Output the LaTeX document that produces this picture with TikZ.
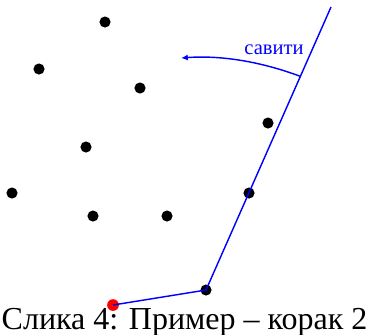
\documentclass[tikz,border=0pt]{standalone}
\usepackage{fontspec}
\setmainfont{Liberation Serif}
\usetikzlibrary{arrows.meta,calc}

\begin{document}
\begin{tikzpicture}[
  x=0.35pt,y=-0.35pt,
  point/.style={circle,fill=black,inner sep=0pt,minimum size=3.9pt},
  start/.style={circle,fill=red,inner sep=0pt,minimum size=4.1pt},
  hull/.style={blue,line width=0.5pt},
  turn/.style={-{Latex[length=2.4pt,width=2.1pt]},blue,line width=0.5pt},
  caption/.style={font=\fontsize{11.2}{13}\selectfont,inner sep=0pt}
]
\useasboundingbox (0,0) rectangle (368,334);
% tacke
\node[point] (a) at (105,22) {};
\node[point] (b) at (39,69) {};
\node[point] (c) at (140,88) {};
\node[point] (d) at (86,147) {};
\node[point] (e) at (268,123) {};
\node[point] (f) at (12,193) {};
\node[point] (g) at (249,193) {};
\node[point] (h) at (93,216) {};
\node[point] (i) at (167,216) {};
\node[point] (q) at (206,290) {};
\node[start] (p) at (113,305) {};
\coordinate (ray) at (331,7);
% omotac
\draw[hull] (p.center) -- (q.center) -- (ray);
\coordinate (arcstart) at ($(q.center)!0.755!(ray)$);
\coordinate (arcend) at (181,58);
\draw[turn] (arcstart) .. controls (262,62) and (222,55) .. (arcend);
\node[blue,font=\fontsize{7.2}{8}\selectfont,inner sep=0pt] (bend) at (274,50) {савити};
\node[caption,anchor=base] (cap) at (184.5,329) {Слика 4: Пример – корак 2};
\end{tikzpicture}
\end{document}
